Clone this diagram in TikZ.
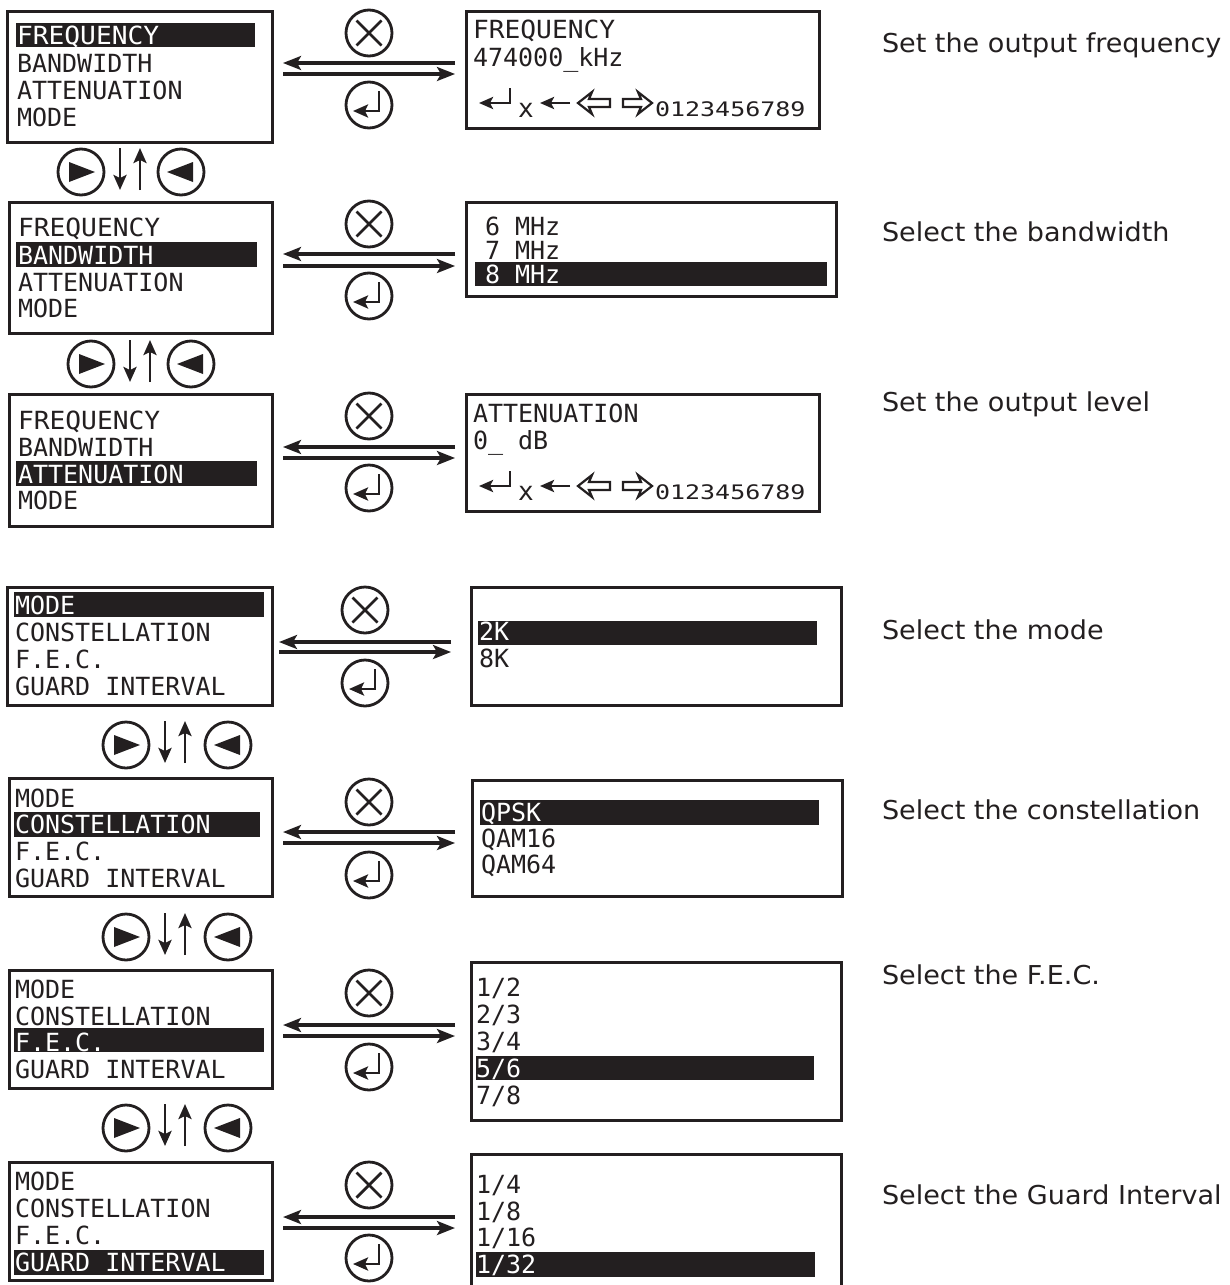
\documentclass[tikz,border=0pt]{standalone}
\usepackage{fontspec}
\setmainfont{DejaVu Sans}
\newfontfamily\lcd{DejaVu Sans Mono}
\newfontfamily\lcdwide[FakeStretch=1.25]{DejaVu Sans Mono}
\newfontfamily\lcdfrq[FakeStretch=1.05]{DejaVu Sans Mono}
\newfontfamily\descfont[FakeStretch=1.04]{DejaVu Sans}
\usetikzlibrary{arrows.meta}
\definecolor{ink}{HTML}{231F20}
\newcommand{\FRQ}{{\lcdfrq FREQUENCY}}
\tikzset{
  x=1pt,y=-1pt,
  every node/.style={inner sep=0pt,outer sep=0pt},
  panel/.style={draw=ink,line width=3pt,fill=white},
  hilite/.style={fill=ink},
  lcdtxt/.style={anchor=base west,text=ink,font=\lcd\fontsize{25}{25}\selectfont},
  lcdinv/.style={lcdtxt,text=white},
  desc/.style={anchor=base west,text=ink,font=\descfont\fontsize{26}{26}\selectfont},
  btn/.style={circle,draw=ink,line width=2.8pt,minimum size=46pt},
  sym/.style={draw=ink,line width=2.8pt},
  arr/.style={draw=ink,line width=3.2pt,-{Stealth[length=18pt,width=14pt,inset=4pt]}},
  arrs/.style={draw=ink,line width=2.8pt,-{Stealth[length=15pt,width=13pt,inset=3pt]}},
  hollow/.style={draw=ink,line width=2.2pt,line join=miter},
}
% box between two corners
\newcommand{\panelbox}[5]{%
  \pgfmathsetmacro{\cxv}{(#2+#4)/2}\pgfmathsetmacro{\cyv}{(#3+#5)/2}%
  \pgfmathsetmacro{\wv}{#4-#2}\pgfmathsetmacro{\hv}{#5-#3}%
  \node[panel,minimum width=\wv pt,minimum height=\hv pt] (#1) at (\cxv,\cyv) {};}
\newcommand{\hibar}[5]{%
  \pgfmathsetmacro{\cxv}{(#2+#4)/2}\pgfmathsetmacro{\cyv}{(#3+#5)/2}%
  \pgfmathsetmacro{\wv}{#4-#2}\pgfmathsetmacro{\hv}{#5-#3}%
  \node[hilite,minimum width=\wv pt,minimum height=\hv pt] (#1) at (\cxv,\cyv) {};}
% line of text: name, x, centre y, text
\newcommand{\tl}[4]{\pgfmathsetmacro{\byv}{#3+9}\node[lcdtxt] (#1) at (#2,\byv) {#4};}
\newcommand{\ti}[4]{\pgfmathsetmacro{\byv}{#3+9}\node[lcdinv] (#1) at (#2,\byv) {#4};}
% horizontal arrow pair: row, xleft, xright, ytop, ybottom
\newcommand{\pair}[5]{%
  \coordinate (#1bl) at (#2,#4); \coordinate (#1br) at (#3,#4);
  \coordinate (#1fl) at (#2,#5); \coordinate (#1fr) at (#3,#5);
  \draw[arr] (#1br) -- (#1bl);
  \draw[arr] (#1fl) -- (#1fr);}
\newcommand{\xbtn}[3]{\node[btn] (#1) at (#2,#3) {};
  \draw[sym] ([shift={(-12.5,-12.5)}]#1.center) -- ([shift={(12.5,12.5)}]#1.center);
  \draw[sym] ([shift={(12.5,-12.5)}]#1.center) -- ([shift={(-12.5,12.5)}]#1.center);}
\newcommand{\entbtn}[3]{\node[btn] (#1) at (#2,#3) {};
  \draw[sym,-{Stealth[length=15pt,width=13pt,inset=3pt]}] ([shift={(10,-14)}]#1.center) -- ([shift={(10,6)}]#1.center) -- ([shift={(-16,6)}]#1.center);}
\newcommand{\rbtn}[3]{\node[btn] (#1) at (#2,#3) {};
  \fill[ink] ([shift={(-12,-10)}]#1.center) -- ([shift={(14,0)}]#1.center) -- ([shift={(-12,10)}]#1.center) -- cycle;}
\newcommand{\lbtn}[3]{\node[btn] (#1) at (#2,#3) {};
  \fill[ink] ([shift={(12,-10)}]#1.center) -- ([shift={(-14,0)}]#1.center) -- ([shift={(12,10)}]#1.center) -- cycle;}
% vertical navigator: name, x of right-btn, x of left-btn, x down, x up, y centre
\newcommand{\nav}[6]{%
  \rbtn{#1r}{#2}{#6}\lbtn{#1l}{#3}{#6}%
  \pgfmathsetmacro{\ta}{#6-24}\pgfmathsetmacro{\tb}{#6+18}%
  \coordinate (#1dt) at (#4,\ta); \coordinate (#1db) at (#4,\tb);
  \coordinate (#1ub) at (#5,\tb); \coordinate (#1ut) at (#5,\ta);
  \draw[arrs] (#1dt) -- (#1db);
  \draw[arrs] (#1ub) -- (#1ut);}
% key strip: name, y of arrow centre
\newcommand{\keystrip}[2]{%
  \pgfmathsetmacro{\ya}{#2}\pgfmathsetmacro{\yt}{#2-15}\pgfmathsetmacro{\yx}{#2+14}\pgfmathsetmacro{\yd}{#2+13}%
  \coordinate (#1a) at (510,\yt); \coordinate (#1b) at (510,\ya); \coordinate (#1c) at (479,\ya);
  \draw[sym,-{Stealth[length=14pt,width=12pt,inset=3pt]}] (#1a) -- (#1b) -- (#1c);
  \node[anchor=base west,text=ink,font=\lcd\fontsize{26}{26}\selectfont] (#1x) at (518,\yx) {x};
  \coordinate (#1d) at (570,\ya); \coordinate (#1e) at (540,\ya);
  \draw[sym,-{Stealth[length=14pt,width=12pt,inset=3pt]}] (#1d) -- (#1e);
  \draw[hollow] (578,\ya) ++(14,-11) -- ++(-14,11) -- ++(14,11) -- ++(-3,-7) -- ++(21,0) -- ++(0,-8) -- ++(-21,0) -- cycle;
  \draw[hollow] (652,\ya) ++(-14,-11) -- ++(14,11) -- ++(-14,11) -- ++(3,-7) -- ++(-18,0) -- ++(0,-8) -- ++(18,0) -- cycle;
  \node[anchor=base west,text=ink,font=\lcdwide\fontsize{20}{20}\selectfont] (#1n) at (655,\yd) {0123456789};}
\begin{document}
\begin{tikzpicture}
\useasboundingbox (0,0) rectangle (1229,1285);
\fill[white] (0,0) rectangle (1229,1285);
% ---- row 1
\panelbox{m1}{7}{11}{272}{142}
\hibar{h1}{16}{23}{255}{47}
\ti{m1a}{17}{35}{\FRQ}\tl{m1b}{17}{63}{BANDWIDTH}\tl{m1c}{17}{90}{ATTENUATION}\tl{m1d}{17}{117}{MODE}
\panelbox{r1}{466}{11}{819}{128}
\tl{r1a}{473}{29}{\FRQ}\tl{r1b}{473}{57}{474000\_kHz}
\keystrip{k1}{103}
\xbtn{x1}{369}{33}\entbtn{e1}{369}{105}\pair{a1}{283}{455}{63}{74}
\nav{n1}{81}{181}{120}{140}{172}
% ---- row 2
\panelbox{m2}{9}{202}{272}{333}
\hibar{h2}{16}{242}{257}{267}
\tl{m2a}{18}{227}{\FRQ}\ti{m2b}{18}{255}{BANDWIDTH}\tl{m2c}{18}{282}{ATTENUATION}\tl{m2d}{18}{308}{MODE}
\panelbox{r2}{466}{202}{836}{296}
\hibar{s2}{475}{262}{827}{286}
\tl{r2a}{485}{226}{6 MHz}\tl{r2b}{485}{250}{7 MHz}\ti{r2c}{485}{274}{8 MHz}
\xbtn{x2}{369}{224}\entbtn{e2}{369}{296}\pair{a2}{283}{455}{254}{266}
\nav{n2}{91}{191}{130}{150}{364}
% ---- row 3
\panelbox{m3}{9}{394}{272}{526}
\hibar{h3}{16}{461}{257}{486}
\tl{m3a}{18}{420}{\FRQ}\tl{m3b}{18}{447}{BANDWIDTH}\ti{m3c}{18}{474}{ATTENUATION}\tl{m3d}{18}{500}{MODE}
\panelbox{r3}{466}{394}{819}{511}
\tl{r3a}{473}{413}{ATTENUATION}\tl{r3b}{473}{440}{0\_ dB}
\keystrip{k3}{486}
\xbtn{x3}{369}{416}\entbtn{e3}{369}{488}\pair{a3}{283}{455}{447}{458}
% ---- row 4
\panelbox{m4}{7}{587}{272}{705}
\hibar{h4}{14}{592}{264}{617}
\ti{m4a}{15}{605}{MODE}\tl{m4b}{15}{632}{CONSTELLATION}\tl{m4c}{15}{659}{F.E.C.}\tl{m4d}{15}{686}{GUARD INTERVAL}
\panelbox{r4}{471}{587}{841}{705}
\hibar{s4}{478}{621}{817}{645}
\ti{r4a}{479}{631}{2K}\tl{r4b}{479}{658}{8K}
\xbtn{x4}{365}{610}\entbtn{e4}{365}{683}\pair{a4}{279}{451}{642}{652}
\nav{n4}{126}{228}{165}{185}{745}
% ---- row 5
\panelbox{m5}{9}{778}{272}{896}
\hibar{h5}{14}{812}{260}{837}
\tl{m5a}{15}{798}{MODE}\ti{m5b}{15}{824}{CONSTELLATION}\tl{m5c}{15}{851}{F.E.C.}\tl{m5d}{15}{878}{GUARD INTERVAL}
\panelbox{r5}{472}{780}{842}{896}
\hibar{s5}{480}{800}{819}{825}
\ti{r5a}{481}{812}{QPSK}\tl{r5b}{481}{838}{QAM16}\tl{r5c}{481}{864}{QAM64}
\xbtn{x5}{369}{802}\entbtn{e5}{369}{875}\pair{a5}{283}{455}{832}{843}
\nav{n5}{126}{228}{165}{185}{937}
% ---- row 6
\panelbox{m6}{9}{970}{272}{1088}
\hibar{h6}{14}{1028}{264}{1052}
\tl{m6a}{15}{989}{MODE}\tl{m6b}{15}{1016}{CONSTELLATION}\ti{m6c}{15}{1042}{F.E.C.}\tl{m6d}{15}{1069}{GUARD INTERVAL}
\panelbox{r6}{471}{962}{841}{1120}
\hibar{s6}{476}{1056}{814}{1080}
\tl{r6a}{476}{987}{1/2}\tl{r6b}{476}{1014}{2/3}\tl{r6c}{476}{1041}{3/4}\ti{r6d}{476}{1068}{5/6}\tl{r6e}{476}{1095}{7/8}
\xbtn{x6}{369}{993}\entbtn{e6}{369}{1067}\pair{a6}{283}{455}{1025}{1036}
\nav{n6}{126}{228}{165}{185}{1128}
% ---- row 7
\panelbox{m7}{9}{1162}{272}{1280}
\hibar{h7}{14}{1250}{264}{1275}
\tl{m7a}{15}{1181}{MODE}\tl{m7b}{15}{1208}{CONSTELLATION}\tl{m7c}{15}{1235}{F.E.C.}\ti{m7d}{15}{1262}{GUARD INTERVAL}
\draw[draw=ink,line width=3pt] (471,1285) -- (471,1154) -- (841,1154) -- (841,1285);
\hibar{s7}{476}{1252}{815}{1277}
\tl{r7a}{476}{1184}{1/4}\tl{r7b}{476}{1211}{1/8}\tl{r7c}{476}{1237}{1/16}\ti{r7d}{476}{1264}{1/32}
\xbtn{x7}{369}{1185}\entbtn{e7}{369}{1258}\pair{a7}{283}{455}{1217}{1228}
% ---- descriptions
\node[desc] (d1) at (882,52) {Set the output frequency};
\node[desc] (d2) at (882,241) {Select the bandwidth};
\node[desc] (d3) at (882,411) {Set the output level};
\node[desc] (d4) at (882,639) {Select the mode};
\node[desc] (d5) at (882,819) {Select the constellation};
\node[desc] (d6) at (882,984) {Select the F.E.C.};
\node[desc] (d7) at (882,1204) {Select the Guard Interval};
\end{tikzpicture}
\end{document}
